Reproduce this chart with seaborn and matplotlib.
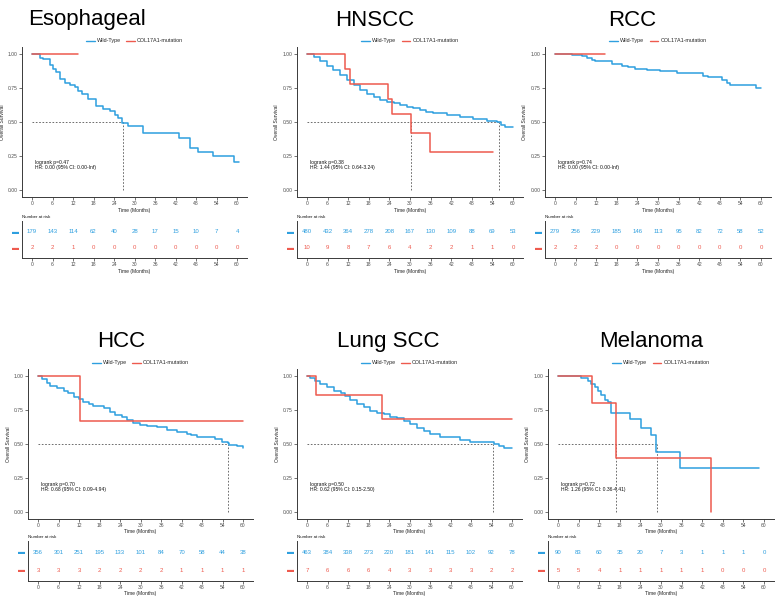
import matplotlib
matplotlib.use("Agg")
import matplotlib.pyplot as plt
from matplotlib.lines import Line2D
import pandas as pd
import seaborn as sns

# ==========================================
# DATA
# ==========================================
TIME_TICKS = [0, 6, 12, 18, 24, 30, 36, 42, 48, 54, 60]
GROUPS = ["Wild-Type", "COL17A1-mutation"]
COLORS = {"Wild-Type": "#2E9FDF", "COL17A1-mutation": "#EE5A4E"}

# Esophageal
ESO_WT_T = [0, 2.2, 3.2, 5.2, 6.2, 7.1, 8.1, 9.6, 11.0, 12.5, 13.5, 14.5, 16.4, 18.7, 20.8, 22.8,
            24.3, 25.2, 26.2, 28.2, 32.6, 42.9, 46.3, 48.7, 53.1, 59.2, 60.5]
ESO_WT_S = [1.00, 0.97, 0.96, 0.92, 0.89, 0.865, 0.815, 0.79, 0.775, 0.76, 0.725, 0.71, 0.67, 0.615,
            0.595, 0.58, 0.55, 0.53, 0.49, 0.475, 0.42, 0.38, 0.31, 0.28, 0.25, 0.21, 0.21]
ESO_MUT_T = [0, 13.5]
ESO_MUT_S = [1.0, 1.0]
ESO_RISK_WT = [179, 143, 114, 62, 40, 28, 17, 15, 10, 7, 4]
ESO_RISK_MUT = [2, 2, 1, 0, 0, 0, 0, 0, 0, 0, 0]
ESO_MEDIANS = [26.5]

# HNSCC
HN_WT_T = [0, 1.9, 3.9, 5.8, 7.7, 9.7, 11.6, 13.6, 15.5, 17.4, 19.4, 21.3, 23.2, 25.2, 27.1, 29.0,
           31.0, 32.9, 34.8, 36.8, 40.7, 44.5, 48.4, 52.3, 55.2, 56.6, 57.6, 60.0]
HN_WT_S = [1.00, 0.978, 0.946, 0.914, 0.885, 0.848, 0.81, 0.774, 0.737, 0.708, 0.683, 0.663, 0.651,
           0.639, 0.627, 0.614, 0.602, 0.59, 0.577, 0.565, 0.553, 0.541, 0.521, 0.511, 0.501, 0.48,
           0.467, 0.467]
HN_MUT_T = [0, 11.1, 12.6, 23.7, 24.9, 30.2, 35.8, 54.2]
HN_MUT_S = [1.0, 0.889, 0.778, 0.667, 0.556, 0.417, 0.278, 0.278]
HN_RISK_WT = [480, 432, 364, 278, 208, 167, 130, 109, 88, 69, 53]
HN_RISK_MUT = [10, 9, 8, 7, 6, 4, 2, 2, 1, 1, 0]
HN_MEDIANS = [30.2, 55.9]

# RCC
RCC_WT_T = [0, 4.9, 7.8, 9.2, 10.7, 11.7, 16.5, 19.4, 21.4, 23.3, 26.7, 30.6, 35.4, 43.2, 44.7,
            48.5, 50.0, 51.0, 58.5, 60.0]
RCC_WT_S = [1.00, 0.993, 0.983, 0.97, 0.958, 0.946, 0.926, 0.914, 0.902, 0.892, 0.885, 0.875, 0.862,
            0.84, 0.83, 0.81, 0.79, 0.769, 0.754, 0.754]
RCC_MUT_T = [0, 14.6]
RCC_MUT_S = [1.0, 1.0]
RCC_RISK_WT = [279, 256, 229, 185, 146, 113, 95, 82, 72, 58, 52]
RCC_RISK_MUT = [2, 2, 2, 0, 0, 0, 0, 0, 0, 0, 0]
RCC_MEDIANS = []

# HCC
HCC_WT_T = [0, 1.2, 2.6, 3.6, 5.5, 7.5, 8.9, 10.4, 11.9, 13.3, 14.8, 16.2, 19.2, 21.1, 22.6, 24.5,
            26.0, 27.9, 29.9, 31.8, 34.7, 37.6, 40.6, 43.5, 44.9, 46.4, 51.8, 53.7, 55.6, 55.9,
            58.1, 60.0]
HCC_WT_S = [1.00, 0.975, 0.946, 0.926, 0.909, 0.892, 0.872, 0.848, 0.828, 0.811, 0.794, 0.779, 0.762,
            0.737, 0.713, 0.695, 0.676, 0.651, 0.639, 0.631, 0.627, 0.602, 0.59, 0.577, 0.565, 0.548,
            0.536, 0.516, 0.504, 0.491, 0.484, 0.474]
HCC_MUT_T = [0, 12.4, 60.0]
HCC_MUT_S = [1.0, 0.667, 0.667]
HCC_RISK_WT = [356, 301, 251, 195, 133, 101, 84, 70, 58, 44, 38]
HCC_RISK_MUT = [3, 3, 3, 2, 2, 2, 2, 1, 1, 1, 1]
HCC_MEDIANS = [55.6]

# Lung SCC
LUNG_WT_T = [0, 1.0, 2.4, 3.9, 5.9, 7.8, 9.8, 11.2, 12.7, 14.6, 16.6, 18.5, 20.5, 22.4, 24.4, 26.3,
             28.3, 30.2, 32.2, 34.1, 36.1, 39.0, 42.9, 44.9, 47.8, 54.6, 56.1, 57.6, 60.0]
LUNG_WT_S = [1.00, 0.983, 0.966, 0.941, 0.916, 0.892, 0.877, 0.853, 0.823, 0.794, 0.774, 0.745, 0.73,
             0.717, 0.70, 0.688, 0.668, 0.646, 0.614, 0.597, 0.577, 0.553, 0.548, 0.528, 0.516, 0.499,
             0.484, 0.474, 0.474]
LUNG_MUT_T = [0, 2.7, 22.0, 60.0]
LUNG_MUT_S = [1.0, 0.857, 0.686, 0.686]
LUNG_RISK_WT = [463, 384, 338, 273, 220, 181, 141, 115, 102, 92, 78]
LUNG_RISK_MUT = [7, 6, 6, 6, 4, 3, 3, 3, 3, 2, 2]
LUNG_MEDIANS = [54.4]

# Melanoma
MEL_WT_T = [0, 6.8, 8.8, 9.7, 10.7, 11.7, 12.6, 13.6, 14.6, 15.4, 20.9, 24.1, 27.2, 28.5, 35.5, 58.4]
MEL_WT_S = [1.00, 0.983, 0.966, 0.941, 0.916, 0.892, 0.86, 0.823, 0.811, 0.73, 0.681, 0.614, 0.565,
            0.442, 0.327, 0.327]
MEL_MUT_T = [0, 9.9, 17.0, 44.6, 44.6]
MEL_MUT_S = [1.0, 0.8, 0.4, 0.4, 0.0]
MEL_RISK_WT = [90, 83, 60, 35, 20, 7, 3, 1, 1, 1, 0]
MEL_RISK_MUT = [5, 5, 4, 1, 1, 1, 1, 1, 0, 0, 0]
MEL_MEDIANS = [17.0, 28.7]

TITLES = ["Esophageal", "HNSCC", "RCC", "HCC", "Lung SCC", "Melanoma"]
PVALUES = ["logrank p=0.47", "logrank p=0.38", "logrank p=0.74",
           "logrank p=0.70", "logrank p=0.50", "logrank p=0.72"]
HR_TEXT = ["HR: 0.00 (95% CI: 0.00-Inf)", "HR: 1.44 (95% CI: 0.64-3.24)",
           "HR: 0.00 (95% CI: 0.00-Inf)", "HR: 0.68 (95% CI: 0.09-4.94)",
           "HR: 0.62 (95% CI: 0.15-2.50)", "HR: 1.26 (95% CI: 0.36-4.41)"]

CURVES = [
    (ESO_WT_T, ESO_WT_S, ESO_MUT_T, ESO_MUT_S, ESO_RISK_WT, ESO_RISK_MUT, ESO_MEDIANS),
    (HN_WT_T, HN_WT_S, HN_MUT_T, HN_MUT_S, HN_RISK_WT, HN_RISK_MUT, HN_MEDIANS),
    (RCC_WT_T, RCC_WT_S, RCC_MUT_T, RCC_MUT_S, RCC_RISK_WT, RCC_RISK_MUT, RCC_MEDIANS),
    (HCC_WT_T, HCC_WT_S, HCC_MUT_T, HCC_MUT_S, HCC_RISK_WT, HCC_RISK_MUT, HCC_MEDIANS),
    (LUNG_WT_T, LUNG_WT_S, LUNG_MUT_T, LUNG_MUT_S, LUNG_RISK_WT, LUNG_RISK_MUT, LUNG_MEDIANS),
    (MEL_WT_T, MEL_WT_S, MEL_MUT_T, MEL_MUT_S, MEL_RISK_WT, MEL_RISK_MUT, MEL_MEDIANS),
]

# ==========================================
# LAYOUT (pixels)
# ==========================================
W, H = 778, 598
# (left, right, plot top, plot bottom, table top, table bottom, title x, title y)
LAYOUT = [
    (21.8, 247.3, 47.2, 197.0, 221.0, 258.0, 87, 20),
    (296.7, 523.3, 47.2, 197.0, 221.0, 258.0, 375, 20),
    (544.7, 771.3, 47.2, 197.0, 221.0, 258.0, 632, 20),
    (27.8, 253.3, 369.2, 518.8, 541.2, 580.8, 121, 342),
    (296.8, 522.3, 369.2, 518.8, 541.2, 580.8, 388, 342),
    (547.7, 774.3, 369.2, 518.8, 541.2, 580.8, 651, 342),
]

sns.set_theme(style="ticks")
plt.rcParams["font.family"] = ["Liberation Sans", "DejaVu Sans"]
AX_COLOR = "#3a3a3a"
TXT = 3.6

fig = plt.figure(figsize=(W / 100, H / 100), dpi=100)


def px_axes(l, r, t, b):
    return fig.add_axes([l / W, 1 - b / H, (r - l) / W, (b - t) / H])


def style_axes(ax):
    sns.despine(ax=ax)
    for sp in ("left", "bottom"):
        ax.spines[sp].set_color(AX_COLOR)
        ax.spines[sp].set_linewidth(0.7)
    ax.tick_params(axis="both", length=2, width=0.5, color=AX_COLOR, labelsize=TXT,
                   labelcolor="#4d4d4d", pad=1.2)
    ax.set_xlim(-3, 63)
    ax.set_xticks(TIME_TICKS)
    ax.set_xlabel("Time (Months)", fontsize=TXT, labelpad=0.8, color="#222222")


for i, (wt_t, wt_s, mu_t, mu_s, r_wt, r_mu, meds) in enumerate(CURVES):
    l, r, t, b, tt, tb, tx, ty = LAYOUT[i]
    ax = px_axes(l, r, t, b)
    style_axes(ax)

    df = pd.concat([
        pd.DataFrame({"time": wt_t, "surv": wt_s, "group": GROUPS[0]}),
        pd.DataFrame({"time": mu_t, "surv": mu_s, "group": GROUPS[1]}),
    ])
    # median survival guide lines
    if meds:
        ax.plot([0, max(meds)], [0.5, 0.5], color="#555555", lw=0.6, ls=(0, (2, 2)), zorder=1)
        for m in meds:
            ax.plot([m, m], [0, 0.5], color="#555555", lw=0.6, ls=(0, (2, 2)), zorder=1)

    for g in GROUPS:
        sub = df[df["group"] == g]
        sns.lineplot(data=sub, x="time", y="surv", ax=ax, color=COLORS[g], lw=1.1,
                     drawstyle="steps-post", estimator=None, sort=False, legend=False, zorder=3)

    ax.set_ylim(-0.05, 1.05)
    ax.set_yticks([0, 0.25, 0.5, 0.75, 1.0])
    ax.set_yticklabels(["0.00", "0.25", "0.50", "0.75", "1.00"])
    ax.set_ylabel("Overall Survival", fontsize=TXT, labelpad=2, color="#222222")

    ax.text(1, 0.20, PVALUES[i], fontsize=TXT, va="center", ha="left", color="#111111")
    ax.text(1, 0.165, HR_TEXT[i], fontsize=TXT, va="center", ha="left", color="#111111")

    handles = [Line2D([], [], color=COLORS[g], lw=1.0) for g in GROUPS]
    ax.legend(handles, GROUPS, loc="lower center", bbox_to_anchor=(0.5, 1.0), ncol=2,
              frameon=False, fontsize=TXT + 0.3, handlelength=1.6, handletextpad=0.4,
              columnspacing=1.0, borderaxespad=0.3)

    fig.text(tx / W, 1 - ty / H, TITLES[i], fontsize=16, ha="center", va="center",
             color="black")

    # risk table
    tab = px_axes(l, r, tt, tb)
    style_axes(tab)
    tab.set_ylim(0.4, 2.6)
    for k, n in enumerate(r_wt):
        tab.text(TIME_TICKS[k], 2, str(n), color=COLORS[GROUPS[0]], fontsize=4.3,
                 ha="center", va="center")
    for k, n in enumerate(r_mu):
        tab.text(TIME_TICKS[k], 1, str(n), color=COLORS[GROUPS[1]], fontsize=4.3,
                 ha="center", va="center")
    tab.set_yticks([1, 2])
    tab.set_yticklabels(["▬", "▬"], fontsize=5)
    tab.tick_params(axis="y", length=0, pad=2)
    for lab, g in zip(tab.get_yticklabels(), [GROUPS[1], GROUPS[0]]):
        lab.set_color(COLORS[g])
    tab.set_title("Number at risk", fontsize=3.2, loc="left", pad=2.5, color="#111111")

fig.savefig("out.png", dpi=100, facecolor="white")
